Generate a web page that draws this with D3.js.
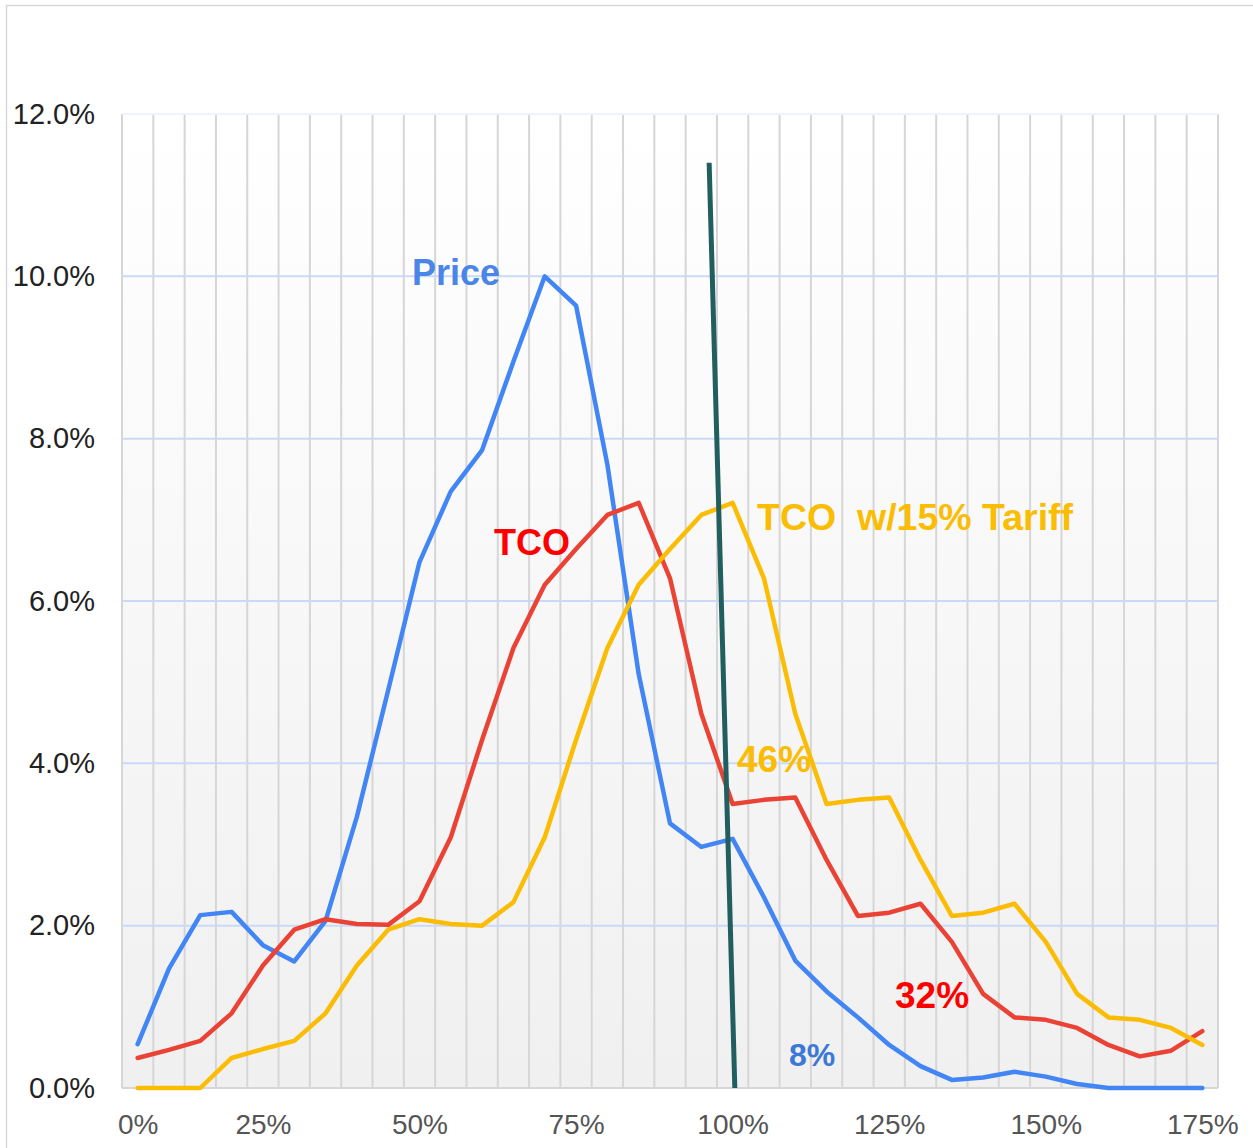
<!DOCTYPE html>
<html>
<head>
<meta charset="utf-8">
<script src="https://cdn.jsdelivr.net/npm/d3@7"></script>
<style>
	body { margin: 0; background: #fff; }
	svg { display: block; font-family: "Liberation Sans", Arial, sans-serif; }
</style>
</head>
<body>
<div id="chart"></div>
<script>
// Share of vehicles per relative cost bin (index 0..34)
const price  = [0.54, 1.47, 2.13, 2.17, 1.76, 1.56, 2.06, 3.34, 4.90, 6.48, 7.35, 7.86, 8.95, 10.0, 9.64, 7.68, 5.10, 3.26, 2.97, 3.07,
	2.35, 1.57, 1.19, 0.87, 0.53, 0.27, 0.10, 0.13, 0.20, 0.14, 0.05, 0, 0, 0, 0];
const tco    = [0.37, 0.47, 0.58, 0.92, 1.51, 1.95, 2.08, 2.02, 2.01, 2.30, 3.09, 4.29, 5.42, 6.20, 6.64, 7.06, 7.21, 6.28, 4.61, 3.50,
	3.55, 3.58, 2.81, 2.12, 2.16, 2.27, 1.80, 1.16, 0.87, 0.84, 0.74, 0.53, 0.39, 0.46, 0.70];
const tariff = [0, 0, 0, 0.37, 0.48, 0.58, 0.92, 1.51, 1.95, 2.08, 2.02, 2.00, 2.29, 3.09, 4.29, 5.42, 6.20, 6.64, 7.06, 7.21,
	6.28, 4.61, 3.50, 3.55, 3.58, 2.81, 2.12, 2.16, 2.27, 1.80, 1.16, 0.87, 0.84, 0.74, 0.53];

const xTickAt     = [0, 4, 9, 14, 19, 24, 29, 34];
const xTickLabels = ["0%", "25%", "50%", "75%", "100%", "125%", "150%", "175%"];
const yTicks      = [0, 2, 4, 6, 8, 10, 12];

// hand drawn break-even line, [bin index, value]
const breakEven = [[18.25, 11.4], [19.07, 0]];

const width = 1253, height = 1148;
const plotLeft = 122, plotRight = 1218, plotTop = 114, plotBottom = 1088;
const nBins = price.length;

let x = d3.scaleLinear().domain([-0.5, nBins - 0.5]).range([plotLeft, plotRight]);
let y = d3.scaleLinear().domain([0, 12]).range([plotBottom, plotTop]);

let svg = d3.select("#chart").append("svg")
	.attr("width", width)
	.attr("height", height);

// outer frame
svg.append("rect")
	.attr("x", 6.5).attr("y", 5.5)
	.attr("width", 1400).attr("height", 1400)
	.attr("fill", "none")
	.attr("stroke", "#d9d9d9")
	.attr("stroke-width", 1.5);

let grad = svg.append("defs").append("linearGradient")
	.attr("id", "bg").attr("x1", 0).attr("y1", 0).attr("x2", 0).attr("y2", 1);
grad.append("stop").attr("offset", "0%").attr("stop-color", "#ffffff");
grad.append("stop").attr("offset", "100%").attr("stop-color", "#f0f0f0");

svg.append("rect")
	.attr("x", plotLeft).attr("y", plotTop)
	.attr("width", plotRight - plotLeft).attr("height", plotBottom - plotTop)
	.attr("fill", "url(#bg)");

// bin separators
svg.append("g").selectAll("line")
	.data(d3.range(nBins + 1))
	.enter().append("line")
	.attr("x1", d => x(d - 0.5)).attr("x2", d => x(d - 0.5))
	.attr("y1", plotTop).attr("y2", plotBottom)
	.attr("stroke", "#d6d6d6")
	.attr("stroke-width", 2);

// horizontal grid
svg.append("g").selectAll("line")
	.data(yTicks)
	.enter().append("line")
	.attr("x1", plotLeft).attr("x2", plotRight)
	.attr("y1", d => y(d)).attr("y2", d => y(d))
	.attr("stroke", d => d === 0 ? "#d6d6d6" : (d === 12 ? "#eef3fd" : "#c9daf8"))
	.attr("stroke-width", 2);

// axes
let yAxis = svg.append("g")
	.attr("transform", `translate(${plotLeft},0)`)
	.call(d3.axisLeft(y).tickValues(yTicks).tickSize(0).tickPadding(27)
		.tickFormat(d => d.toFixed(1) + "%"));
yAxis.select(".domain").remove();
yAxis.selectAll("text")
	.attr("font-size", 29)
	.attr("font-family", "Liberation Sans, Arial, sans-serif")
	.attr("fill", "#222");

let xAxis = svg.append("g")
	.attr("transform", `translate(0,${plotBottom})`)
	.call(d3.axisBottom(x).tickValues(xTickAt).tickSize(0).tickPadding(26)
		.tickFormat((d, i) => xTickLabels[i]));
xAxis.select(".domain").remove();
xAxis.selectAll("text")
	.attr("font-size", 28)
	.attr("font-family", "Liberation Sans, Arial, sans-serif")
	.attr("fill", "#555");

// series
let line = d3.line()
	.x((d, i) => x(i))
	.y(d => y(d));

const series = [
	{ values: price,  color: "#4285f4" },
	{ values: tco,    color: "#ea4335" },
	{ values: tariff, color: "#fbbc04" }
];

svg.append("g").selectAll("path")
	.data(series)
	.enter().append("path")
	.attr("d", d => line(d.values))
	.attr("fill", "none")
	.attr("stroke", d => d.color)
	.attr("stroke-width", 4.5)
	.attr("stroke-linejoin", "round")
	.attr("stroke-linecap", "round");

svg.append("path")
	.attr("d", d3.line().x(d => x(d[0])).y(d => y(d[1]))(breakEven))
	.attr("stroke", "#215f5f")
	.attr("stroke-width", 5)
	.attr("fill", "none");

// annotations
const notes = [
	{ text: "Price",               x: 412, y: 285,  size: 36, color: "#4a86e8" },
	{ text: "TCO",                 x: 494, y: 555,  size: 36, color: "#ff0000" },
	{ text: "TCO\u00a0\u00a0w/15% Tariff", x: 757, y: 530, size: 37.5, color: "#fbbc04" },
	{ text: "46%",                 x: 737, y: 772,  size: 37, color: "#fbbc04" },
	{ text: "32%",                 x: 895, y: 1008, size: 37, color: "#ff0000" },
	{ text: "8%",                  x: 789, y: 1066, size: 32, color: "#3c78d8" }
];

svg.append("g").selectAll("text")
	.data(notes)
	.enter().append("text")
	.attr("x", d => d.x)
	.attr("y", d => d.y)
	.attr("font-size", d => d.size)
	.attr("font-weight", "bold")
	.attr("fill", d => d.color)
	.text(d => d.text);
</script>
</body>
</html>
